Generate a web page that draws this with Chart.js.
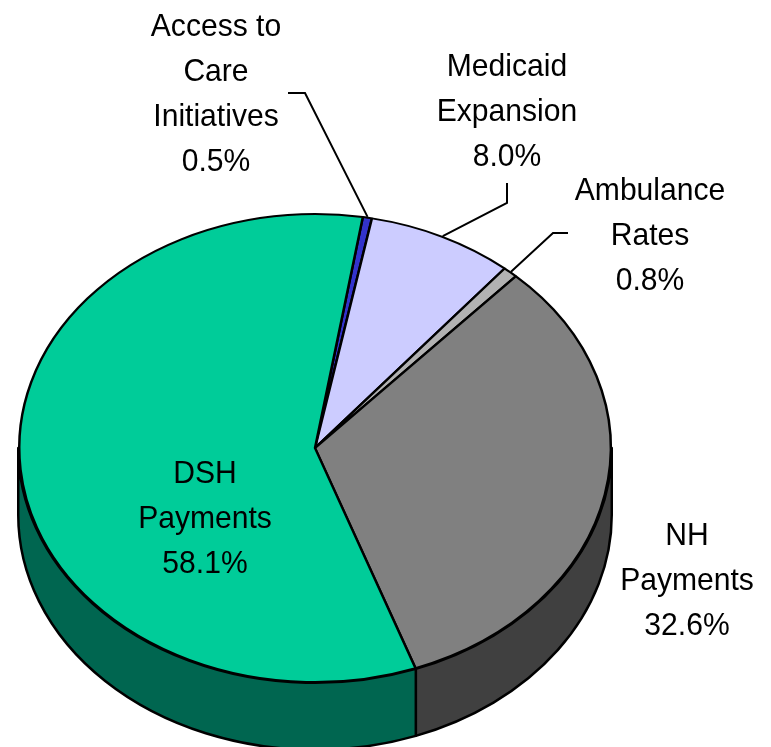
<!DOCTYPE html>
<html>
<head>
<meta charset="utf-8">
<script src="https://cdn.jsdelivr.net/npm/chart.js@4.4.1/dist/chart.umd.min.js"></script>
<style>
  body { margin: 0; background: #fff; }
  #wrap { width: 771px; height: 747px; position: relative; }
</style>
</head>
<body>
<div id="wrap"><canvas id="myChart"></canvas></div>
<script>
// data, clockwise from near 12 o'clock
let categories = [
    ['Access to', 'Care', 'Initiatives'],
    ['Medicaid', 'Expansion'],
    ['Ambulance', 'Rates'],
    ['NH', 'Payments'],
    ['DSH', 'Payments']
];
let shares = [0.5, 8.0, 0.8, 32.6, 58.1];

let topColors = ['#3333CC', '#CCCCFF', '#B2B2B2', '#808080', '#00CC99'];
let sideColors = ['#1A1A80', '#8080A0', '#707070', '#404040', '#006650'];

// label placement (first line baseline, center x) and leader lines
let labelLayout = [
    { x: 216, y: 36, leader: [[305, 93], [288, 93]] },
    { x: 507, y: 76, leader: [[507, 203], [507, 183]] },
    { x: 650, y: 200, leader: [[553, 233], [568, 233]] },
    { x: 687, y: 545 },
    { x: 205, y: 483 }
];

const tilt = 235 / 297;   // vertical squash of the pie
const depth = 67;         // thickness of the side wall

const pie3d = {
    id: 'pie3d',
    beforeDatasetsDraw(chart) {
        const ctx = chart.ctx;
        const arcs = chart.getDatasetMeta(0).data;
        ctx.save();
        ctx.lineWidth = 2.5;
        ctx.strokeStyle = '#000';
        ctx.lineJoin = 'round';
        arcs.forEach(function (arc, i) {
            const p = arc.getProps(['x', 'y', 'startAngle', 'endAngle', 'outerRadius'], true);
            const rx = p.outerRadius + 1;
            const ry = rx * tilt;
            for (let k = -1; k <= 1; k++) {
                const a = Math.max(p.startAngle, 2 * Math.PI * k);
                const b = Math.min(p.endAngle, 2 * Math.PI * k + Math.PI);
                if (b <= a) continue;
                ctx.beginPath();
                ctx.ellipse(p.x, p.y, rx, ry, 0, a, b);
                ctx.ellipse(p.x, p.y + depth, rx, ry, 0, b, a, true);
                ctx.closePath();
                ctx.fillStyle = sideColors[i];
                ctx.fill();
                ctx.stroke();
            }
        });
        ctx.restore();
        // squash the top face into an ellipse
        const cy = arcs[0].y;
        ctx.save();
        ctx.translate(0, cy);
        ctx.scale(1, tilt);
        ctx.translate(0, -cy);
    },
    afterDatasetsDraw(chart) {
        chart.ctx.restore();
    },
    afterDraw(chart) {
        const ctx = chart.ctx;
        const arcs = chart.getDatasetMeta(0).data;
        ctx.save();
        ctx.fillStyle = '#000';
        ctx.strokeStyle = '#000';
        ctx.lineWidth = 2;
        arcs.forEach(function (arc, i) {
            const lay = labelLayout[i];
            const lines = categories[i].concat([shares[i].toFixed(1) + '%']);
            lines.forEach(function (t, j) {
                // slightly condensed text, like the original rendering
                ctx.save();
                ctx.translate(lay.x, lay.y + j * 45);
                ctx.scale(0.94, 1);
                ctx.font = '32px "Liberation Sans", Arial, sans-serif';
                ctx.textAlign = 'center';
                ctx.textBaseline = 'alphabetic';
                ctx.fillText(t, 0, 0);
                ctx.restore();
            });
            if (lay.leader) {
                const p = arc.getProps(['x', 'y', 'startAngle', 'endAngle', 'outerRadius'], true);
                const mid = (p.startAngle + p.endAngle) / 2;
                const r = p.outerRadius + 1;
                ctx.beginPath();
                ctx.moveTo(p.x + r * Math.cos(mid), p.y + r * tilt * Math.sin(mid));
                lay.leader.forEach(function (pt) { ctx.lineTo(pt[0], pt[1]); });
                ctx.stroke();
            }
        });
        ctx.restore();
    }
};

var ctx = document.getElementById('myChart').getContext('2d');
var myChart = new Chart(ctx, {
    type: 'pie',
    data: {
        labels: categories.map(function (c) { return c.join(' '); }),
        datasets: [{
            data: shares,
            backgroundColor: topColors,
            borderColor: '#000',
            borderWidth: 2.5
        }]
    },
    options: {
        responsive: true,
        maintainAspectRatio: false,
        animation: false,
        rotation: 9.3,
        layout: {
            padding: { left: 18, right: 159, top: 151, bottom: 2 }
        },
        plugins: {
            legend: { display: false },
            tooltip: { enabled: false }
        }
    },
    plugins: [pie3d]
});
</script>
</body>
</html>
